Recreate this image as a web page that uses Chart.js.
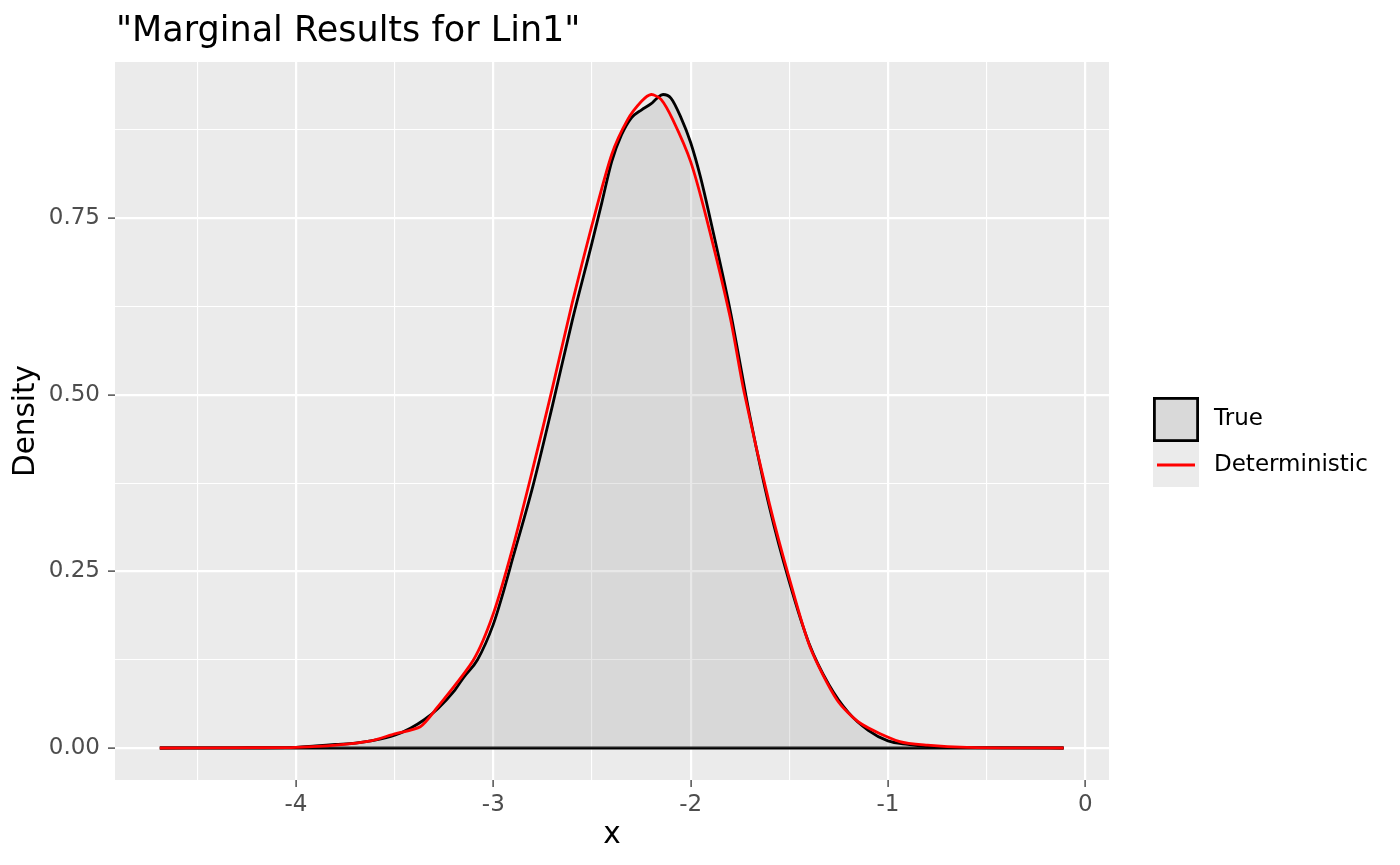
<!DOCTYPE html>
<html>
<head>
<meta charset="utf-8">
<script src="https://cdn.jsdelivr.net/npm/chart.js@4.4.0/dist/chart.umd.min.js"></script>
<style>
  html, body { margin: 0; padding: 0; background: #ffffff; }
</style>
</head>
<body>
<canvas id="myChart" width="1400" height="865"></canvas>
<script>
// density estimate of the "true" posterior
const trueX = [-4.69, -4.3, -4.0, -3.9, -3.8, -3.7, -3.6, -3.5, -3.42, -3.35, -3.28, -3.2, -3.15, -3.08, -3.0, -2.95, -2.9, -2.8, -2.7, -2.6, -2.5, -2.45, -2.4, -2.35, -2.3, -2.25, -2.2, -2.17, -2.14, -2.1, -2.05, -2.0, -1.95, -1.9, -1.8, -1.75, -1.7, -1.6, -1.5, -1.4, -1.3, -1.2, -1.1, -1.0, -0.9, -0.8, -0.6, -0.11];
const trueY = [0, 0.0003, 0.001, 0.003, 0.005, 0.007, 0.011, 0.018, 0.028, 0.04, 0.056, 0.08, 0.1, 0.125, 0.175, 0.22, 0.27, 0.37, 0.485, 0.605, 0.715, 0.772, 0.83, 0.868, 0.892, 0.903, 0.912, 0.92, 0.925, 0.92, 0.893, 0.857, 0.808, 0.748, 0.62, 0.545, 0.47, 0.34, 0.235, 0.148, 0.09, 0.05, 0.025, 0.01, 0.005, 0.002, 0.0005, 0];

// deterministic approximation
const detX = [-4.69, -4.2, -4.0, -3.8, -3.62, -3.5, -3.37, -3.285, -3.1, -3.0, -2.9, -2.8, -2.7, -2.6, -2.5, -2.4, -2.32, -2.25, -2.2, -2.15, -2.09, -2.0, -1.92, -1.8, -1.73, -1.6, -1.5, -1.395, -1.258, -1.14, -0.94, -0.8, -0.6, -0.11];
const detY = [0, 0.0004, 0.001, 0.004, 0.01, 0.02, 0.03, 0.057, 0.125, 0.19, 0.285, 0.395, 0.51, 0.63, 0.74, 0.84, 0.889, 0.915, 0.925, 0.918, 0.889, 0.83, 0.75, 0.61, 0.505, 0.345, 0.24, 0.143, 0.068, 0.035, 0.009, 0.004, 0.001, 0];

const xMajor = [-4, -3, -2, -1, 0];
const xMinor = [-4.5, -3.5, -2.5, -1.5, -0.5];
const xLabels = ['-4', '-3', '-2', '-1', '0'];
const yMajor = [0, 0.25, 0.5, 0.75];
const yMinor = [0.125, 0.375, 0.625, 0.875];
const yLabels = ['0.00', '0.25', '0.50', '0.75'];

const seriesNames = ['True', 'Deterministic'];
const titleText = '"Marginal Results for Lin1"';

const FONT = '"DejaVu Sans", sans-serif';

function pts(xs, ys) {
  return xs.map((x, i) => ({ x: x, y: ys[i] }));
}

function isMajor(list, v) {
  return list.some(m => Math.abs(m - v) < 1e-9);
}

const panelBg = {
  id: 'panelBg',
  beforeDraw(chart) {
    const a = chart.chartArea;
    const c = chart.ctx;
    c.save();
    c.fillStyle = '#ebebeb';
    c.fillRect(a.left, a.top, a.right - a.left, a.bottom - a.top);
    c.restore();
  }
};

const decorations = {
  id: 'decorations',
  afterDraw(chart) {
    const a = chart.chartArea;
    const c = chart.ctx;
    c.save();
    // title
    c.fillStyle = '#000000';
    c.font = '35px ' + FONT;
    c.textAlign = 'left';
    c.textBaseline = 'alphabetic';
    c.fillText(titleText, a.left + 1, 41);

    // axis titles
    c.font = '29.5px ' + FONT;
    c.textAlign = 'center';
    c.textBaseline = 'middle';
    c.fillText('x', (a.left + a.right) / 2, 835);
    c.save();
    c.translate(26, (a.top + a.bottom) / 2);
    c.rotate(-Math.PI / 2);
    c.fillText('Density', 0, 0);
    c.restore();

    // legend
    const kx = 1153, ky = 397, kw = 46, kh = 45;
    c.fillStyle = '#ebebeb';
    c.fillRect(kx, ky, kw, kh * 2);
    c.fillStyle = '#d9d9d9';
    c.fillRect(kx + 1.5, ky + 1.5, kw - 3, kh - 3);
    c.strokeStyle = '#000000';
    c.lineWidth = 2.8;
    c.strokeRect(kx + 1.4, ky + 1.4, kw - 2.8, kh - 2.8);
    c.strokeStyle = '#ff0000';
    c.lineWidth = 2.8;
    c.beginPath();
    c.moveTo(kx + 4, ky + kh + 23);
    c.lineTo(kx + kw - 4, ky + kh + 23);
    c.stroke();
    c.fillStyle = '#000000';
    c.font = '23px ' + FONT;
    c.textAlign = 'left';
    c.textBaseline = 'middle';
    c.fillText(seriesNames[0], 1214, ky + kh / 2);
    c.fillText(seriesNames[1], 1214, ky + kh + 23);
    c.restore();
  }
};

const ctx = document.getElementById('myChart').getContext('2d');
const myChart = new Chart(ctx, {
  type: 'line',
  data: {
    datasets: [
      {
        label: seriesNames[1],
        data: pts(detX, detY),
        borderColor: '#ff0000',
        borderWidth: 2.8,
        pointRadius: 0,
        fill: false,
        tension: 0.25,
        order: 1
      },
      {
        label: seriesNames[0],
        data: pts(trueX, trueY),
        borderColor: '#000000',
        backgroundColor: 'rgba(150,150,150,0.22)',
        borderWidth: 2.8,
        pointRadius: 0,
        fill: 'origin',
        cubicInterpolationMode: 'monotone',
        order: 2
      },
      {
        label: 'base',
        data: pts([trueX[0], trueX[trueX.length - 1]], [0, 0]),
        borderColor: '#000000',
        borderWidth: 2.8,
        pointRadius: 0,
        fill: false,
        order: 3
      }
    ]
  },
  options: {
    responsive: false,
    animation: false,
    layout: { padding: { left: 0, top: 62, right: 291, bottom: 0 } },
    plugins: {
      legend: { display: false },
      title: { display: false },
      tooltip: { enabled: false }
    },
    scales: {
      x: {
        type: 'linear',
        min: -4.917,
        max: 0.12,
        afterFit(s) { s.height = 85; },
        afterBuildTicks(s) {
          s.ticks = xMinor.concat(xMajor).sort((p, q) => p - q).map(v => ({ value: v }));
        },
        border: { display: false },
        grid: {
          color: '#ffffff',
          lineWidth: c => isMajor(xMajor, c.tick.value) ? 2.2 : 1.1,
          tickColor: c => isMajor(xMajor, c.tick.value) ? '#333333' : 'rgba(0,0,0,0)',
          tickLength: 7,
          tickWidth: 1.3
        },
        ticks: {
          autoSkip: false,
          maxRotation: 0,
          padding: 4,
          color: '#4d4d4d',
          font: { family: 'DejaVu Sans', size: 23 },
          callback: v => {
            const i = xMajor.findIndex(m => Math.abs(m - v) < 1e-9);
            return i >= 0 ? xLabels[i] : '';
          }
        }
      },
      y: {
        type: 'linear',
        min: -0.0453,
        max: 0.971,
        afterFit(s) { s.width = 115; },
        afterBuildTicks(s) {
          s.ticks = yMinor.concat(yMajor).sort((p, q) => p - q).map(v => ({ value: v }));
        },
        border: { display: false },
        grid: {
          color: '#ffffff',
          lineWidth: c => isMajor(yMajor, c.tick.value) ? 2.2 : 1.1,
          tickColor: c => isMajor(yMajor, c.tick.value) ? '#333333' : 'rgba(0,0,0,0)',
          tickLength: 7,
          tickWidth: 1.3
        },
        ticks: {
          autoSkip: false,
          padding: 8,
          color: '#4d4d4d',
          font: { family: 'DejaVu Sans', size: 23 },
          callback: v => {
            const i = yMajor.findIndex(m => Math.abs(m - v) < 1e-9);
            return i >= 0 ? yLabels[i] : '';
          }
        }
      }
    }
  },
  plugins: [panelBg, decorations]
});
</script>
</body>
</html>
